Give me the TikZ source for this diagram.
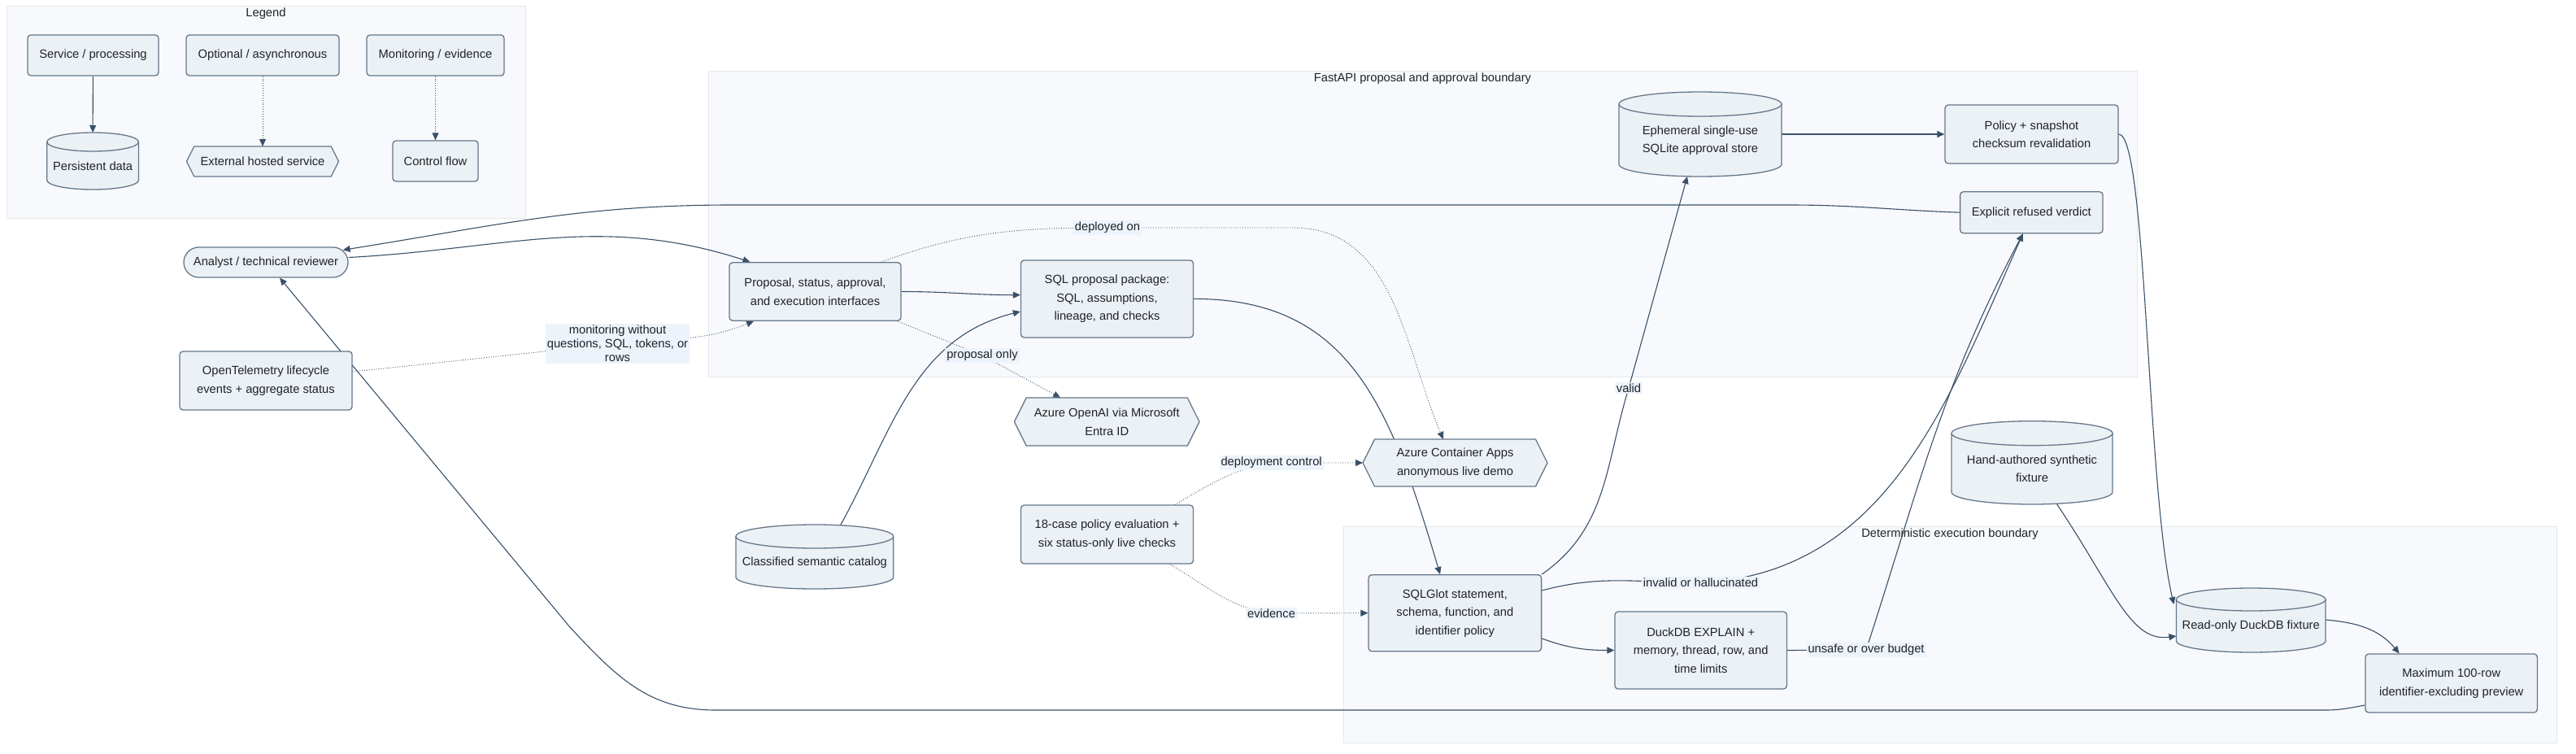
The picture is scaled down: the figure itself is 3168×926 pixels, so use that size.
\documentclass[tikz,border=0pt]{standalone}
\usepackage{fontspec}
\setmainfont{Liberation Sans}
\usetikzlibrary{
    arrows.meta,
    positioning,
    calc,
}

\definecolor{nodefill}{HTML}{ECF1F6}
\definecolor{nodeline}{HTML}{66778A}
\definecolor{clusterfill}{HTML}{F7F9FC}
\definecolor{clusterline}{HTML}{E3E7EC}
\definecolor{edgecol}{HTML}{3A5068}
\definecolor{labelfill}{HTML}{EDF3FB}
\definecolor{ink}{HTML}{1F2328}

\newcommand{\diagfont}{\fontsize{14.7}{22.5}\selectfont}
\newcommand{\edgefont}{\fontsize{14.7}{17}\selectfont}

\pgfdeclarelayer{background}
\pgfdeclarelayer{edges}
\pgfdeclarelayer{shapes}
\pgfsetlayers{background,edges,shapes,main}

\begin{document}
\begin{tikzpicture}[
    x=1pt, y=1pt,
    box/.style={draw=nodeline, fill=nodefill, rectangle, rounded corners=4pt,
                line width=1.3pt, align=center, font=\diagfont, text=ink, inner sep=0pt},
    pill/.style={box, rounded corners=18.5pt},
    holder/.style={rectangle, inner sep=0pt, outer sep=0pt, align=center,
                   font=\diagfont, text=ink},
    storebody/.style={draw=nodeline, fill=nodefill, line width=1.3pt},
    storerim/.style={draw=nodeline, line width=1.3pt},
    hexbody/.style={draw=nodeline, fill=nodefill, line width=1.3pt, line join=round},
    cluster/.style={draw=clusterline, fill=clusterfill, line width=1pt, inner sep=0pt},
    clustertitle/.style={font=\diagfont, text=ink, inner sep=0pt},
    edgelabel/.style={fill=labelfill, font=\edgefont, text=ink, align=center, inner sep=2pt},
    flow/.style={draw=edgecol, line width=1.1pt, line join=round,
                 -{Triangle[length=9pt,width=8pt]}},
    dotflow/.style={flow, line width=0.9pt, dash pattern=on 0.9pt off 2pt}
]
\useasboundingbox (0,0) rectangle (3168,-926);

% boundaries
\begin{pgfonlayer}{background}
\node[cluster, minimum width=638pt, minimum height=261pt] (legendbox) at (327,-137.5) {};
\node[cluster, minimum width=1757pt, minimum height=376pt] (fastapi) at (1749.5,-275) {};
\node[cluster, minimum width=1492pt, minimum height=266pt] (determ) at (2398,-780) {};
\end{pgfonlayer}
\node[clustertitle] (legendtitle) at ([yshift=-10pt]legendbox.north) {Legend};
\node[clustertitle] (fastapititle) at ([yshift=-10pt]fastapi.north) {FastAPI proposal and approval boundary};
\node[clustertitle] (determtitle) at ([yshift=-10pt]determ.north) {Deterministic execution boundary};

% legend
\node[box, minimum width=161pt, minimum height=50pt] (svc) at (114.5,-68) {Service / processing};
\node[box, minimum width=188pt, minimum height=50pt] (opt) at (323,-68) {Optional / asynchronous};
\node[box, minimum width=169pt, minimum height=50pt] (mon) at (535.5,-68) {Monitoring / evidence};
\node[holder, minimum width=112.8pt, minimum height=58.5pt] (persist) at (114.1,-203.75) {Persistent data};
\node[holder, minimum width=187pt, minimum height=37pt] (ext) at (323,-198.5) {External hosted service};
\node[box, minimum width=105pt, minimum height=50pt] (ctrl) at (535.5,-198) {Control flow};

% people and monitoring
\node[pill, minimum width=202pt, minimum height=37pt] (analyst) at (327,-322.5) {Analyst / technical reviewer};
\node[box, minimum width=212pt, minimum height=72pt] (otel) at (327,-468) {OpenTelemetry lifecycle\\events + aggregate status};

% proposal side
\node[box, minimum width=211pt, minimum height=71.5pt] (proposal) at (1002.5,-358.5) {Proposal, status, approval,\\and execution interfaces};
\node[box, minimum width=212pt, minimum height=95pt] (sqlpkg) at (1361.5,-367.4) {SQL proposal package:\\SQL, assumptions,\\lineage, and checks};
\node[holder, minimum width=200pt, minimum height=89pt] (sqlite) at (2091,-172.5) {Ephemeral single-use\\SQLite approval store};
\node[box, minimum width=213pt, minimum height=72pt] (policy) at (2498.5,-165) {Policy + snapshot\\checksum revalidation};
\node[box, minimum width=175.4pt, minimum height=51pt] (refused) at (2498.3,-261.2) {Explicit refused verdict};
\node[holder, minimum width=227.6pt, minimum height=59pt] (openai) at (1361.2,-518.5) {Azure OpenAI via Microsoft\\Entra ID};
\node[holder, minimum width=193.7pt, minimum height=64.5pt] (catalog) at (1001.85,-691.75) {Classified semantic catalog};
\node[box, minimum width=212pt, minimum height=72pt] (evalx) at (1361.5,-657) {18-case policy evaluation +\\six status-only live checks};
\node[holder, minimum width=227pt, minimum height=58pt] (aca) at (1789.5,-569) {Azure Container Apps\\anonymous live demo};

% execution side
\node[box, minimum width=212.6pt, minimum height=94pt] (sqlglot) at (1789.3,-753.7) {SQLGlot statement,\\schema, function, and\\identifier policy};
\node[box, minimum width=211.4pt, minimum height=95pt] (explain) at (2091.7,-799.5) {DuckDB EXPLAIN +\\memory, thread, row, and\\time limits};
\node[holder, minimum width=198pt, minimum height=87.3pt] (handfix) at (2499,-576.35) {Hand-authored synthetic\\fixture};
\node[holder, minimum width=183.6pt, minimum height=65pt] (duckfix) at (2768.2,-769.5) {Read-only DuckDB fixture};
\node[box, minimum width=211.4pt, minimum height=72pt] (preview) at (3014.7,-840) {Maximum 100-row\\identifier-excluding preview};

% edge labels
\node[edgelabel] (lblmon) at (759.5,-422.5) {monitoring without\\questions, SQL, tokens, or\\rows};
\node[edgelabel] (lbldeploy) at (1362,-280) {deployed on};
\node[edgelabel] (lblprop) at (1208,-437) {proposal only};
\node[edgelabel] (lbldepctl) at (1563.6,-569) {deployment control};
\node[edgelabel] (lblevid) at (1563.5,-754) {evidence};
\node[edgelabel] (lblvalid) at (2003,-477) {valid};
\node[edgelabel] (lblinvalid) at (2091.5,-716.5) {invalid or hallucinated};
\node[edgelabel] (lblunsafe) at (2295,-799) {unsafe or over budget};

% cylinders and hexagons
\begin{pgfonlayer}{shapes}
\foreach \n/\w/\r in {persist/56.4/11.5, catalog/96.85/14.5, sqlite/100/15, handfix/99/15, duckfix/91.8/14}{
    \path[storebody] (\n.north west) -- ([yshift=\r]\n.south west)
        arc[start angle=180, end angle=360, x radius=\w, y radius=\r]
        -- (\n.north east)
        arc[start angle=0, end angle=180, x radius=\w, y radius=\r] -- cycle;
    \draw[storerim] (\n.north west) arc[start angle=180, end angle=360, x radius=\w, y radius=\r];
}
\foreach \n/\s in {ext/9.25, openai/14.75, aca/14.5}{
    \draw[hexbody] (\n.west) -- ([xshift=\s]\n.north west) -- ([xshift=-\s]\n.north east)
        -- (\n.east) -- ([xshift=-\s]\n.south east) -- ([xshift=\s]\n.south west) -- cycle;
}
\end{pgfonlayer}

\begin{pgfonlayer}{edges}
% legend
\draw[flow] (svc) -- ([yshift=11.5]persist.north);
\draw[dotflow] (opt) -- (ext);
\draw[dotflow] (mon) -- (ctrl);

% proposal
\draw[flow] ([yshift=6]analyst.east) to[out=3,in=162] ([xshift=-80]proposal.north);
\draw[dotflow] ([yshift=11]otel.east) to[out=6,in=186] (lblmon.center) to[out=6,in=-158] ([xshift=-75.5]proposal.south);
\draw[flow] (proposal.east) to[out=0,in=180] ([yshift=4.7]sqlpkg.west);
\draw[flow] ([xshift=24]catalog.north) to[out=60,in=-166] ([yshift=-15.6]sqlpkg.west);
\draw[dotflow] ([xshift=-5]proposal.south east) -- (lblprop.center) -- ([xshift=-57]openai.north);
\draw[dotflow] ([xshift=-25]proposal.north east) to[out=20,in=180] (lbldeploy.center) -- (1590,-280) to[out=0,in=113] ([xshift=-14.5]aca.north);
\draw[dotflow] ([xshift=-23]evalx.north east) to[out=30,in=190] (lbldepctl.center) -- (aca.west);
\draw[dotflow] ([xshift=-29.5]evalx.south east) to[out=-30,in=172] (lblevid.center) -- (sqlglot.west);
\draw[flow] (sqlpkg.east) .. controls (1660,-367.4) and (1710,-500) .. ([xshift=-18.3]sqlglot.north);

% execution
\draw[flow] (sqlglot.north east) to[out=35,in=-107] (lblvalid.center) -- ([xshift=-16]sqlite.south);
\draw[flow] ([yshift=27.7]sqlglot.east) to[out=15,in=180] (lblinvalid.center) to[out=3,in=-114] ([xshift=-10.5]refused.south);
\draw[flow] ([yshift=-31.3]sqlglot.east) to[out=-20,in=180] (explain.west);
\draw[flow] (explain.east) -- (lblunsafe.center) to[out=72,in=-118] ([xshift=-10.5]refused.south);
\draw[flow] (sqlite.east |- policy.west) -- (policy.west);
\draw[flow] (policy.east) .. controls (2640,-165) and (2640,-600) .. ([xshift=-3,yshift=-6]duckfix.north west);
\draw[flow] ([xshift=30.7]handfix.south) .. controls (2600,-725) and (2620,-790) .. ([yshift=-12.5]duckfix.west);
\draw[flow] ([yshift=7.5]duckfix.east) to[out=-5,in=130] ([xshift=-64]preview.north);

% back to the analyst
\draw[flow] ([yshift=-27]preview.west) to[out=190,in=0] (2860,-873) -- (880,-873)
    .. controls (800,-873) and (760,-835) .. (700,-770) -- ([xshift=17]analyst.south);
\draw[flow] (refused.west) to[out=178,in=0] (2200,-252) -- (900,-252)
    to[out=180,in=9] ([xshift=-7,yshift=-4]analyst.north east);
\end{pgfonlayer}

\end{tikzpicture}
\end{document}
